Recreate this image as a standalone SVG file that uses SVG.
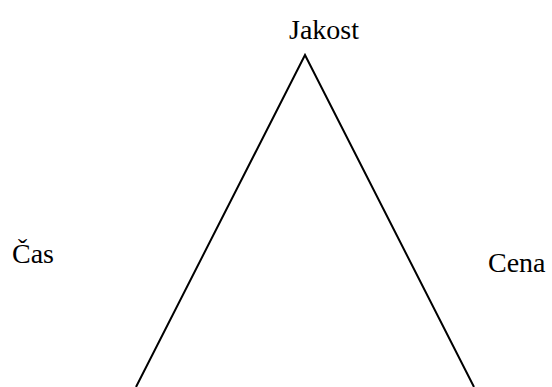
<svg xmlns="http://www.w3.org/2000/svg" width="552" height="387" viewBox="0 0 552 387">
<style>
text{font-family:"Liberation Serif","Times New Roman",serif;font-size:28px;fill:#000}
.edge{stroke:#000;stroke-width:2;fill:none}
</style>
<rect width="552" height="387" fill="#fff"/>
<g id="connectors">
<path class="edge" d="M136,387 L305,55 L474,387"/>
</g>
<g id="jakost"><text x="289" y="39">Jakost</text></g>
<g id="cas"><text x="12" y="263">Čas</text></g>
<g id="cena"><text x="488" y="272">Cena</text></g>
</svg>
